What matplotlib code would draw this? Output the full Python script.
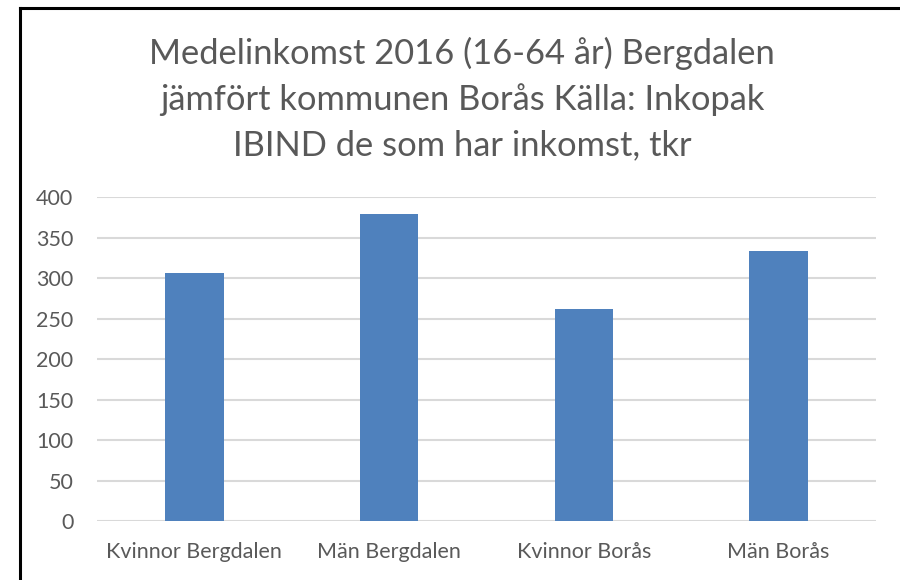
import matplotlib
matplotlib.use("Agg")
from matplotlib import pyplot as plt
from matplotlib.lines import Line2D

categories = ["Kvinnor Bergdalen", "Män Bergdalen", "Kvinnor Borås", "Män Borås"]
income = [307, 380, 262, 334]
yticks = [0, 50, 100, 150, 200, 250, 300, 350, 400]
title = ("Medelinkomst 2016 (16-64 år) Bergdalen\n"
         "jämfört kommunen Borås Källa: Inkopak\n"
         "IBIND de som har inkomst, tkr")

plt.rcParams['font.family'] = ['Lato', 'DejaVu Sans']
text_color = '#595959'

fig = plt.figure(figsize=(9, 5.8), dpi=100)
ax = fig.add_axes([97/900, 1 - 521/580, (876 - 97)/900, (521 - 197.5)/580])

x = range(len(categories))
ax.bar(x, income, width=0.3, color='#4F81BD', zorder=3)

ax.set_xlim(-0.5, len(categories) - 0.5)
ax.set_ylim(0, 400)
ax.set_yticks(yticks)
ax.set_xticks(list(x))
ax.set_xticklabels(categories)
ax.yaxis.grid(True, color='#D9D9D9', linewidth=1.5, zorder=0)
for s in ax.spines.values():
    s.set_visible(False)
ax.tick_params(length=0, colors=text_color, labelsize=15.5)
ax.tick_params(axis='y', pad=17)
ax.tick_params(axis='x', pad=15)

fig.text(462/900, 1 - 99/580, title, ha='center', va='center', fontsize=24.8,
         color=text_color, linespacing=1.5)

# chart frame (left and top edges visible)
fig.add_artist(Line2D([20/900, 20/900], [0, 1 - 7.5/580], color='black', linewidth=2.2,
                      transform=fig.transFigure))
fig.add_artist(Line2D([20/900, 1], [1 - 7.5/580, 1 - 7.5/580], color='black', linewidth=2.2,
                      transform=fig.transFigure))

fig.savefig('out.png', dpi=100)
